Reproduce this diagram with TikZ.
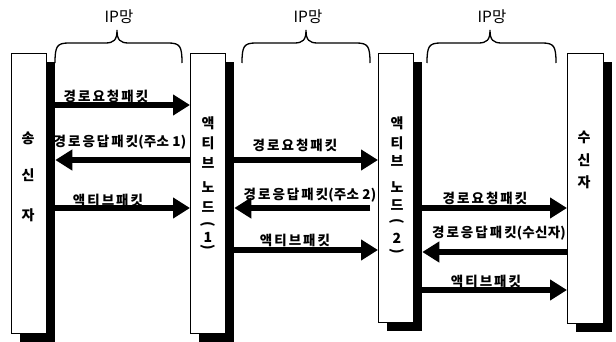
\documentclass[tikz,border=0pt]{standalone}
\usepackage{graphicx}
\usepackage{fontspec}
\setmainfont{Noto Sans CJK KR}
\newfontfamily\lbl{Noto Sans CJK KR}[LetterSpace=15]
\newfontfamily\lbn{Noto Sans CJK KR}[LetterSpace=2]
\usetikzlibrary{arrows.meta,shadows}
\newcommand\ipbrace[4]{%
 \draw[bracestyle] (#1,63) .. controls (#1,46) and (#1+2,43) .. (#1+14,43) -- (#2-12,43) .. controls (#2-3,43) and (#2,40) .. (#2,30) .. controls (#2,40) and (#2+3,43) .. (#2+12,43) -- (#3-14,43) .. controls (#3-2,43) and (#3,46) .. (#3,63);
 \node[ip] (#4) at (#2+2,17) {IP망};}
\newcommand\opp{\rotatebox[origin=c]{-90}{(}}
\newcommand\clp{\rotatebox[origin=c]{-90}{)}}
\newcommand\nar[1]{{\lbn\bfseries #1}}
\begin{document}
\begin{tikzpicture}[x=1pt,y=-1pt,
 box/.style={draw=black, line width=0.8pt, fill=white, anchor=north west, inner sep=0,
   drop shadow={shadow xshift=8.5pt, shadow yshift=-9pt, fill=black, opacity=1}},
 arr/.style={line width=6.5pt, -{Triangle[length=17pt,width=20pt]}},
 lab/.style={font=\lbl\bfseries\fontsize{13.5}{15}\selectfont, inner sep=0},
 vt/.style={font=\bfseries\fontsize{14}{16}\selectfont, inner sep=0},
 bracestyle/.style={line width=1.3pt},
 ip/.style={font=\fontsize{15.5}{17}\selectfont, inner sep=0}]
\useasboundingbox (0,0) rectangle (616,342);
% boxes
\node[box, minimum width=35pt, minimum height=280pt] (b1) at (11,53) {};
\node[box, minimum width=35pt, minimum height=280pt] (b2) at (190,53) {};
\node[box, minimum width=35pt, minimum height=269pt] (b3) at (378,53) {};
\node[box, minimum width=36pt, minimum height=270pt] (b4) at (567,53) {};
\coordinate (s1) at ([xshift=8.5pt]b1.east);
\coordinate (s2) at ([xshift=8.5pt]b2.east);
\coordinate (s3) at ([xshift=8.5pt]b3.east);
% braces
\ipbrace{55}{117}{182}{ip1}
\ipbrace{242}{306}{370}{ip2}
\ipbrace{427}{490}{556}{ip3}
% vertical texts
\node[vt] (t11) at (28,138) {송};
\node[vt] (t12) at (28,175) {신};
\node[vt] (t13) at (28,215) {자};
\node[vt] (t21) at (208,123) {액};
\node[vt] (t22) at (208,143) {티};
\node[vt] (t23) at (208,163) {브};
\node[vt] (t24) at (208,187) {노};
\node[vt] (t25) at (208,207) {드};
\node[vt] (t26) at (208,225) {\opp};
\node[vt] (t27) at (208,237) {1};
\node[vt] (t28) at (208,248) {\clp};
\node[vt] (t31) at (397,123) {액};
\node[vt] (t32) at (397,143) {티};
\node[vt] (t33) at (397,161) {브};
\node[vt] (t34) at (397,187) {노};
\node[vt] (t35) at (397,205) {드};
\node[vt] (t36) at (397,222) {\opp};
\node[vt] (t37) at (397,238) {2};
\node[vt] (t38) at (397,252) {\clp};
\node[vt] (t41) at (584,137) {수};
\node[vt] (t42) at (584,160) {신};
\node[vt] (t43) at (584,182) {자};
% arrows
\coordinate (m2) at (370,208);
\draw[arr] (s1 |- 0,105) -- (b2.west |- 0,105);
\draw[arr] (b2.west |- 0,160) -- (s1 |- 0,160);
\draw[arr] (s1 |- 0,208) -- (b2.west |- 0,208);
\draw[arr] (s2 |- 0,160) -- (b3.west |- 0,160);
\draw[arr] (m2) -- (s2 |- m2);
\draw[arr] (s2 |- 0,250) -- (b3.west |- 0,250);
\draw[arr] (s3 |- 0,208) -- (b4.west |- 0,208);
\draw[arr] (b4.west |- 0,252) -- (s3 |- 0,252);
\draw[arr] (s3 |- 0,290) -- (b4.west |- 0,290);
% labels
\node[lab] (l11) at (106,96) {경로요청패킷};
\node[lab] (l12) at (120,142) {경로응답패킷\nar{(주소 1)}};
\node[lab] (l13) at (108,200) {액티브패킷};
\node[lab] (l21) at (295,145) {경로요청패킷};
\node[lab] (l22) at (310,195) {경로응답패킷\nar{(주소 2)}};
\node[lab] (l23) at (295,240) {액티브패킷};
\node[lab] (l31) at (485,198) {경로요청패킷};
\node[lab] (l32) at (499,233) {경로응답패킷\nar{(수신자)}};
\node[lab] (l33) at (486,281) {액티브패킷};
\end{tikzpicture}
\end{document}
